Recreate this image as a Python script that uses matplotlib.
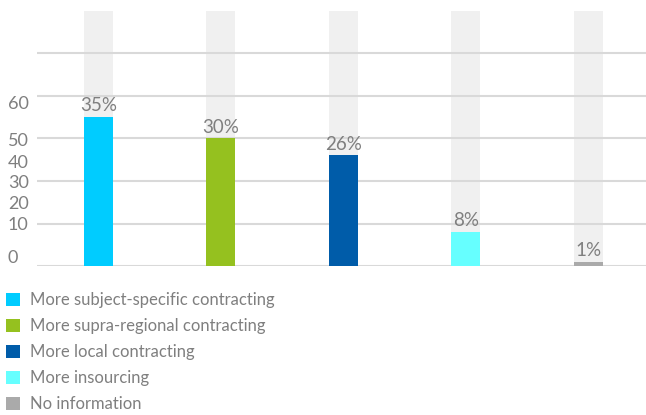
import matplotlib.pyplot as plt
from matplotlib.patches import Patch

categories = ['More subject-specific contracting', 'More supra-regional contracting',
              'More local contracting', 'More insourcing', 'No information']
values = [35, 30, 26, 8, 1]
colors = ['#00ccff', '#95c11f', '#005ca9', '#66ffff', '#aaaaaa']
tick_labels = ['0', '10', '20', '30', '40', '50', '60']
tick_pos = [1.9, 9.6, 14.7, 19.6, 24.3, 29.4, 38.1]

plt.rcParams['font.family'] = ['Lato', 'DejaVu Sans']
txt = '#7f7f7f'

fig = plt.figure(figsize=(6.46, 4.15), dpi=100)
ax = fig.add_axes([37 / 646, 1 - 266 / 415, 609 / 646, 255 / 415])

x = list(range(len(values)))
w = 0.237
ax.bar(x, [60] * len(x), width=w, color='#f0f0f0', zorder=1)
ax.bar(x, values, width=w, color=colors, zorder=3)
for xi, v in zip(x, values):
    ax.text(xi, v + 0.7, f'{v}%', ha='center', va='bottom', fontsize=13.5, color=txt, zorder=4)

for g in range(0, 60, 10):
    ax.axhline(g, color='#d9d9d9', lw=1.5, zorder=2)

ax.set_xlim(-0.502, 4.47)
ax.set_ylim(0, 60)
ax.axis('off')

# y labels sit left-aligned near the figure edge
for lab, p in zip(tick_labels, tick_pos):
    ax.text(-0.74, p, lab, ha='left', va='center', fontsize=13, color=txt, clip_on=False)

handles = [Patch(facecolor=c, edgecolor='none') for c in colors]
fig.legend(handles, categories, loc='upper left', bbox_to_anchor=(0.002, 1 - 287 / 415),
           frameon=False, fontsize=12, labelcolor=txt, handlelength=0.85, handleheight=0.85,
           handletextpad=0.6, labelspacing=0.6, borderaxespad=0, borderpad=0.3)

fig.savefig('out.png', dpi=100)
